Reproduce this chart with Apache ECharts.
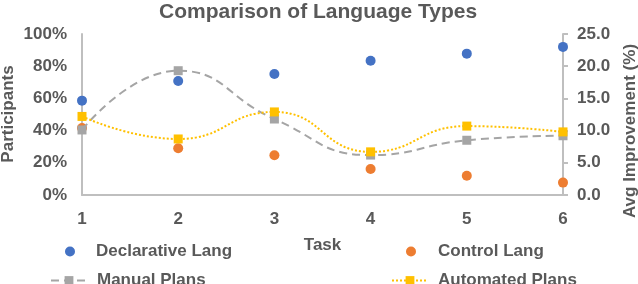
<!DOCTYPE html>
<html><head><meta charset="utf-8">
<script src="https://cdn.jsdelivr.net/npm/echarts@6/dist/echarts.min.js"></script>
<style>html,body{margin:0;padding:0;background:#fff}#c{width:638px;height:284px}</style>
</head><body><div id="c"></div>
<script>
const tasks = ['1','2','3','4','5','6'];
const declarativeLang = [58.6, 70.8, 75.2, 83.4, 87.8, 92.0];
const controlLang = [41.6, 29.0, 24.7, 16.1, 12.0, 7.7];
const manualPlans = [10.1, 19.3, 11.8, 6.2, 8.5, 9.2];
const automatedPlans = [12.2, 8.7, 12.9, 6.7, 10.7, 9.8];
const leftTicks = [0, 20, 40, 60, 80, 100];
const rightTicks = [0, 5, 10, 15, 20, 25];

const FONT = "'Liberation Sans', Arial, sans-serif";
const TXT = '#595959';
const AX = '#BFBFBF';
const chart = echarts.init(document.getElementById('c'), null, {renderer: 'canvas'});
const lt = {fontFamily: FONT, fontWeight: 'bold', fontSize: 17, color: TXT};
function leg(name, left, top, w, h, pad) {
  return {data: [name], left: left, top: top, padding: 0, itemWidth: w, itemHeight: h,
    textStyle: Object.assign({}, lt, {padding: [0, 0, 0, pad]}), selectedMode: false};
}
chart.setOption({
  animation: false,
  title: {text: 'Comparison of Language Types', left: 154, top: -3,
    textStyle: {fontFamily: FONT, fontWeight: 'bold', fontSize: 21, color: TXT}},
  grid: {left: 82, right: 75, top: 34, bottom: 89, containLabel: false},
  legend: [
    leg('Declarative Lang', 65, 243, 10, 10, 16),
    leg('Control Lang', 406, 243, 10, 10, 17),
    leg('Manual Plans', 50, 272, 36, 11, 5),
    leg('Automated Plans', 391, 272, 36, 11, 5)
  ],
  xAxis: {type: 'category', data: tasks, boundaryGap: false,
    name: 'Task', nameLocation: 'middle', nameGap: 42,
    nameTextStyle: lt,
    axisLine: {lineStyle: {color: AX, width: 2}}, axisTick: {show: false},
    axisLabel: Object.assign({}, lt, {margin: 16})},
  yAxis: [
    {type: 'value', min: 0, max: 100, interval: 20,
      axisLine: {show: true, lineStyle: {color: AX, width: 2}}, axisTick: {show: false},
      splitLine: {show: false},
      axisLabel: Object.assign({}, lt, {margin: 15, formatter: v => leftTicks.includes(v) ? v + '%' : ''})},
    {type: 'value', min: 0, max: 25, interval: 5, position: 'right',
      axisLine: {show: true, lineStyle: {color: AX, width: 2}},
      axisTick: {show: true, length: 5, lineStyle: {color: AX, width: 2}},
      splitLine: {show: false},
      axisLabel: Object.assign({}, lt, {margin: 14, formatter: v => rightTicks.includes(v) ? v.toFixed(1) : ''})}
  ],
  graphic: [
    {type: 'text', x: 8, y: 114, rotation: Math.PI / 2,
      style: {text: 'Participants', font: 'bold 17px ' + FONT, fill: TXT, align: 'center', verticalAlign: 'middle'}},
    {type: 'text', x: 630, y: 131, rotation: Math.PI / 2,
      style: {text: 'Avg Improvement (%)', font: 'bold 17px ' + FONT, fill: TXT, align: 'center', verticalAlign: 'middle'}}
  ],
  series: [
    {name: 'Declarative Lang', type: 'scatter', yAxisIndex: 0, data: declarativeLang,
      symbol: 'circle', symbolSize: 10, itemStyle: {color: '#4472C4', opacity: 1}},
    {name: 'Control Lang', type: 'scatter', yAxisIndex: 0, data: controlLang,
      symbol: 'circle', symbolSize: 10, itemStyle: {color: '#ED7D31', opacity: 1}},
    {name: 'Manual Plans', type: 'line', yAxisIndex: 1, data: manualPlans, smooth: 0.5,
      symbol: 'rect', symbolSize: 9, itemStyle: {color: '#A5A5A5'},
      lineStyle: {color: '#A5A5A5', width: 2, type: [8, 5]}},
    {name: 'Automated Plans', type: 'line', yAxisIndex: 1, data: automatedPlans, smooth: 0.5,
      symbol: 'rect', symbolSize: 9, itemStyle: {color: '#FFC000'},
      lineStyle: {color: '#FFC000', width: 2, type: [2, 2]}}
  ]
});
</script></body></html>
